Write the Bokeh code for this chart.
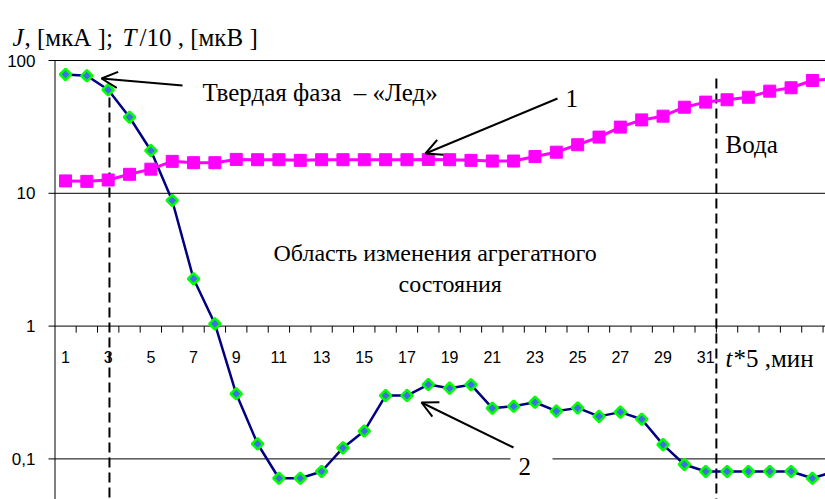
from bokeh.plotting import figure
from bokeh.models import (Range1d, Label, Arrow, OpenHead, ColumnDataSource)
from bokeh.core.properties import value
from bokeh.embed import file_html
from bokeh.resources import INLINE
import math

# ---------------- data ----------------
categories = list(range(1, 38))
series_1 = [12.4, 12.3, 12.6, 13.9, 15.2, 17.4, 17.0, 17.0, 18.0, 17.9,
            17.9, 17.7, 17.9, 17.9, 17.9, 17.9, 17.9, 18.0, 17.9, 17.7,
            17.5, 17.5, 18.9, 20.4, 23.2, 26.5, 31.5, 35.7, 38.1, 44.5,
            48.6, 50.6, 52.9, 58.8, 62.3, 70.7, 73.0]
series_2 = [78.5, 76.7, 60.2, 37.4, 21.0, 8.83, 2.27, 1.04, 0.309, 0.130,
            0.0715, 0.0715, 0.0804, 0.121, 0.162, 0.300, 0.300, 0.363, 0.341, 0.362,
            0.241, 0.249, 0.267, 0.229, 0.242, 0.209, 0.225, 0.199, 0.128, 0.0908,
            0.0804, 0.0804, 0.0804, 0.0804, 0.0804, 0.0715, 0.080]
x_tick_values = list(range(1, 32, 2))
x_tick_labels = [str(v) for v in x_tick_values]
y_tick_values = [0.1, 1, 10, 100]
y_tick_labels = ["0,1", "1", "10", "100"]
phase_bounds = [3.06, 31.5]
phase_tops = [52.6, 73.2]

# ---------------- geometry helpers (page px -> data) ----------------
X0_PX, DX_PX = 65.0, 21.34      # page x of category 1, px per category
Y100_PX, DEC_PX = 60.0, 132.8   # page y of 100, px per decade


def px2x(px):
    return 1 + (px - X0_PX) / DX_PX


def py2y(py):
    return 10 ** (2 - (py - Y100_PX) / DEC_PX)


W, H = 825, 499
p = figure(width=W, height=H, output_backend="svg", toolbar_location=None,
           y_axis_type="log", x_axis_location=None, y_axis_location=None,
           x_range=Range1d(px2x(0), px2x(825)),
           y_range=Range1d(py2y(499), py2y(0)),
           min_border_left=0, min_border_top=0, min_border_right=0, min_border_bottom=0)
p.outline_line_color = None
p.background_fill_color = "white"
p.border_fill_color = "white"
p.grid.visible = False

n_y = len(y_tick_values)
# horizontal gridlines (with outward tick on the left)
p.segment(x0=[px2x(48)] * n_y, y0=y_tick_values, x1=[px2x(830)] * n_y, y1=y_tick_values,
          line_color="black", line_width=1)
# vertical axis line from the bottom up to 100
p.segment(x0=[px2x(54.5)], y0=[py2y(520)], x1=[px2x(54.5)], y1=[max(y_tick_values)],
          line_color="black", line_width=1)
# y tick labels
p.text(x=[px2x(35)] * n_y, y=y_tick_values, text=y_tick_labels,
       text_align="right", text_baseline="middle",
       text_font=value("Liberation Sans"), text_font_size="17px", text_color="black")

# category tick marks on the y=1 line
bounds = [c + 0.5 for c in categories]
tick_len = 10 ** (-6.5 / DEC_PX)
p.segment(x0=bounds, y0=[1] * len(bounds), x1=bounds, y1=[tick_len] * len(bounds),
          line_color="black", line_width=1)

# x tick labels
p.text(x=x_tick_values, y=[py2y(356)] * len(x_tick_values), text=x_tick_labels,
       text_align="center", text_baseline="middle",
       text_font=value("Liberation Sans"), text_font_size="16px", text_color="black")

# white patch behind label "2"
p.rect(x=[px2x(531)], y=[1e-1], width=42, height=8, width_units="screen",
       height_units="screen", fill_color="white", line_color=None)

# phase boundary dashed lines
p.segment(x0=phase_bounds, y0=phase_tops, x1=phase_bounds, y1=[0.01, 0.01],
          line_color="black", line_width=2, line_dash="10 5")

# series
src = ColumnDataSource(dict(x=categories, s1=series_1, s2=series_2))
p.line("x", "s2", source=src, line_color="#000080", line_width=2.5)
p.scatter("x", "s2", source=src, marker="square", angle=math.pi / 4, size=8,
          fill_color="#3f6fe8", line_color="#00ff00", line_width=2.5)
p.line("x", "s1", source=src, line_color="#ff00ff", line_width=3)
p.scatter("x", "s1", source=src, marker="square", size=12,
          fill_color="#ff00ff", line_color="#ff00ff", line_width=1)

SERIF = "Liberation Serif"


def lab(txt, px, py, size="25px", style="normal", align="left"):
    p.add_layout(Label(x=px2x(px), y=py2y(py), text=txt, text_font=SERIF,
                       text_font_size=size, text_font_style=style,
                       text_align=align, text_baseline="alphabetic",
                       text_color="black"))


# title pieces
lab("J", 12, 37, "25px", "italic")
lab(", [мкА ]; ", 24, 37, "25px")
lab("T", 122, 37, "25px", "italic")
lab("/10 , [мкВ ]", 139, 37, "25px")

lab("Твердая фаза\u00a0 – «Лед»", 202, 92)
lab("Область изменения агрегатного", 273, 252, "24px")
lab("состояния", 398, 283, "24px")
lab("Вода", 725, 144)
lab("1", 565, 98)
lab("2", 518, 466)
lab("t", 725, 358, "25px", "italic")
lab("*5 ,мин", 733, 358)


def arrow(x_start, y_start, x_end, y_end):
    p.add_layout(Arrow(end=OpenHead(size=16, line_width=2, line_color="black"),
                       x_start=px2x(x_start), y_start=py2y(y_start),
                       x_end=px2x(x_end), y_end=py2y(y_end),
                       line_width=2, line_color="black"))


arrow(182, 85, 101, 78)
arrow(557, 98, 425, 153)
arrow(513, 447, 421, 402)

open("out.html", "w").write(file_html(p, INLINE))
